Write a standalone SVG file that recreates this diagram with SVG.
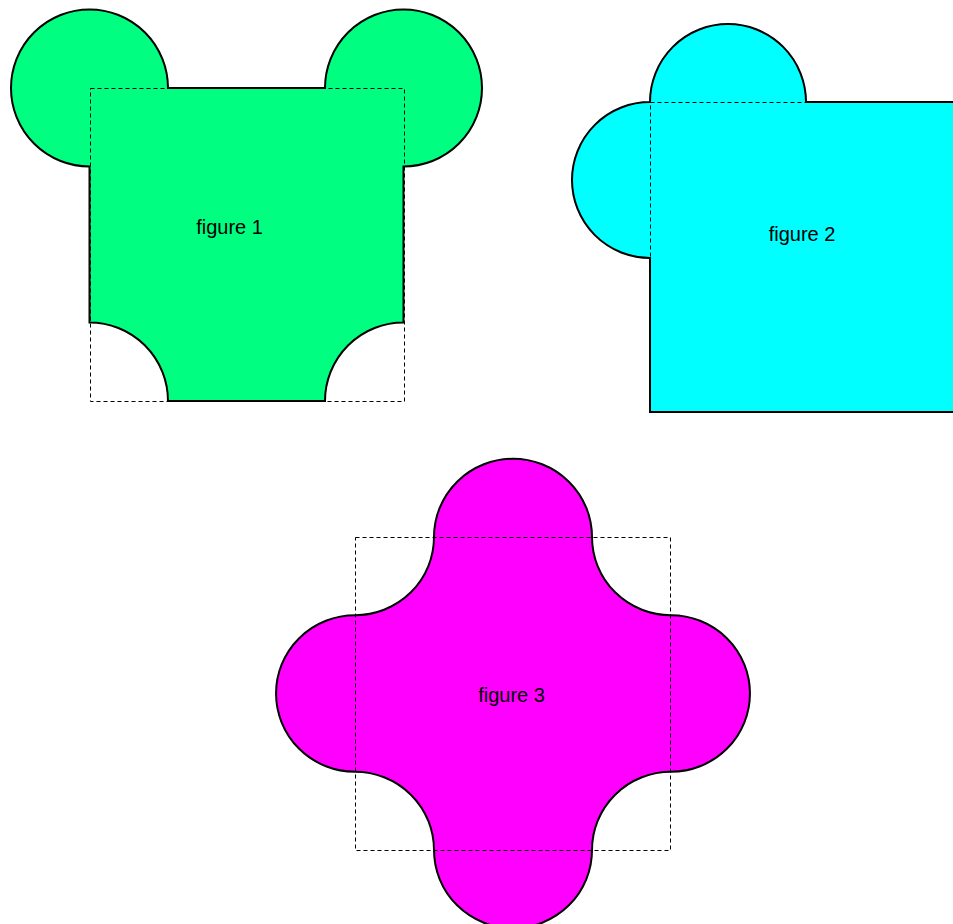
<svg xmlns="http://www.w3.org/2000/svg" xmlns:xlink="http://www.w3.org/1999/xlink" width="953" height="924" viewBox="0 0 953 924">
  <style>
    .outline { fill: none; stroke: #000; stroke-width: 2; stroke-linejoin: miter; }
    .guide { fill: none; stroke: #000; stroke-width: 1; stroke-dasharray: 4 3; }
    .label { font-family: "Liberation Sans", Arial, sans-serif; font-size: 20px; fill: #000; text-anchor: middle; }
  </style>
  <defs>
    <path id="shape1" d="M 168,88 H 325 A 78.5 78.5 0 1 1 403.5,166.5 V 322.5 A 78.5 78.5 0 0 0 325,401 H 168 A 78.5 78.5 0 0 0 89.5,322.5 V 166.5 A 78.5 78.5 0 1 1 168,88 Z"/>
    <path id="shape2" d="M 650,258 V 412 H 965 V 102 H 806 A 78 78 0 0 0 650,102 A 78 78 0 0 0 650,258 Z"/>
    <path id="shape3" d="M 434,537 A 79 78.25 0 0 1 592,537 A 79 78.25 0 0 0 671,615.25 A 79 78.25 0 0 1 671,771.75 A 79 78.25 0 0 0 592,850 A 79 78.25 0 0 1 434,850 A 79 78.25 0 0 0 355,771.75 A 79 78.25 0 0 1 355,615.25 A 79 78.25 0 0 0 434,537 Z"/>
  </defs>
  <rect width="953" height="924" fill="#fff"/>

  <g id="figure1">
    <use xlink:href="#shape1" fill="#00FF80"/>
    <rect class="guide" x="90.5" y="88.5" width="314" height="313"/>
    <use xlink:href="#shape1" class="outline"/>
    <text class="label" x="229.5" y="234">figure 1</text>
  </g>

  <g id="figure2">
    <use xlink:href="#shape2" fill="#00FFFF"/>
    <rect class="guide" x="650.5" y="102.5" width="320" height="310"/>
    <use xlink:href="#shape2" class="outline"/>
    <text class="label" x="802" y="241">figure 2</text>
  </g>

  <g id="figure3">
    <use xlink:href="#shape3" fill="#FF00FF"/>
    <rect class="guide" x="355.5" y="537.5" width="315" height="313"/>
    <use xlink:href="#shape3" class="outline"/>
    <text class="label" x="511.5" y="702">figure 3</text>
  </g>

  <g id="connectors"/>
</svg>
